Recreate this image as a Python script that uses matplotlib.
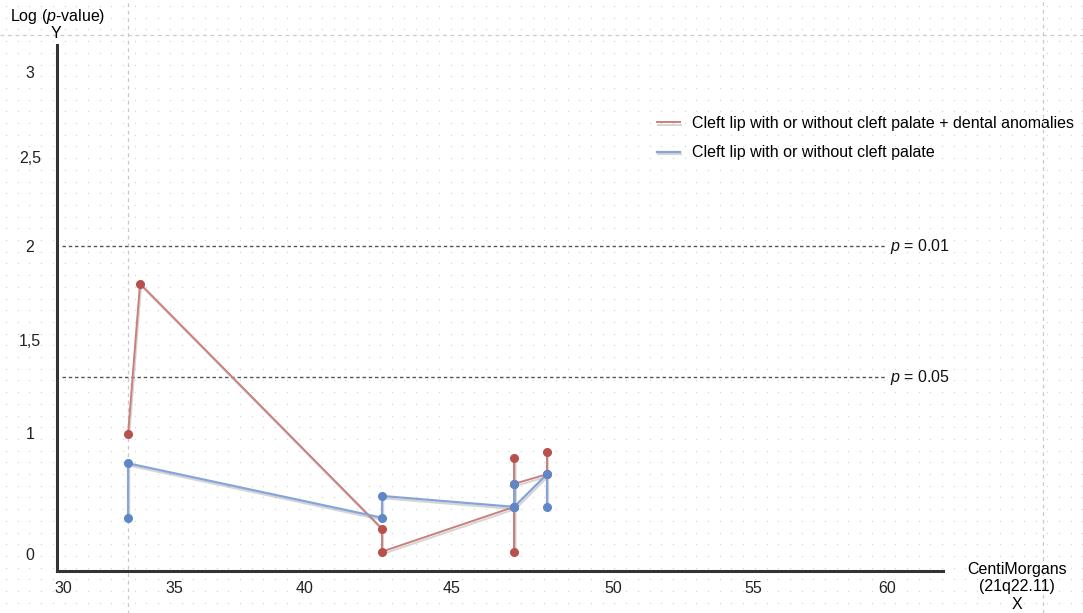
import numpy as np
import matplotlib.pyplot as plt
from matplotlib import patheffects as pe
from matplotlib.lines import Line2D

plt.rcParams['font.family'] = ['Liberation Sans', 'DejaVu Sans']
plt.rcParams['font.size'] = 11.5
plt.rcParams['mathtext.fontset'] = 'custom'
plt.rcParams['mathtext.rm'] = 'Liberation Sans'
plt.rcParams['mathtext.it'] = 'Liberation Sans:italic'

# ----------------- Data -----------------
# series path (cM, -log10 p), vertical runs are several values at one marker
red_label = "Cleft lip with or without cleft palate + dental anomalies"
red_cm = [32.93, 33.47, 42.62, 42.62, 46.93, 46.93, 46.93, 46.93, 47.95, 47.95]
red_logp = [0.99, 1.80, 0.21, 0.02, 0.39, 0.02, 0.79, 0.58, 0.66, 0.84]

blue_label = "Cleft lip with or without cleft palate"
blue_cm = [32.93, 32.93, 42.62, 42.62, 46.93, 46.93, 46.93, 47.95, 47.95]
blue_logp = [0.30, 0.75, 0.30, 0.48, 0.39, 0.58, 0.39, 0.66, 0.39]

thresholds = [0.01, 0.05]

x_ticks = [30, 35, 40, 45, 50, 55, 60]
y_ticks = [0, 1, 1.5, 2, 2.5, 3]
y_ticklabels = ['0', '1', '1,5', '2', '2,5', '3']

# the original figure has uneven tick spacing -> piecewise scale
x_knots = [25, 30, 35, 40, 45, 50, 55, 60, 65]
x_pos = [-48, 63, 174, 305, 452, 613, 753, 887, 1021]
y_knots = [-1, 0, 1, 1.5, 2, 2.5, 3, 4]
y_pos = [675, 554, 433, 340, 246, 157, 72, -98]


def x_fwd(v):
    return np.interp(v, x_knots, x_pos)


def x_inv(u):
    return np.interp(u, x_pos, x_knots)


def y_fwd(v):
    return -np.interp(v, y_knots, y_pos)


def y_inv(u):
    return np.interp(-u, y_pos[::-1], y_knots[::-1])


# ----------------- Figure/Axes -----------------
W, H = 1083, 613
fig = plt.figure(figsize=(W / 100, H / 100), dpi=100)

# dotted background
ax_bg = fig.add_axes([0, 0, 1, 1], zorder=-2)
ax_bg.set_xlim(0, W)
ax_bg.set_ylim(H, 0)
ax_bg.axis('off')
gx, gy = np.meshgrid(np.arange(6, W, 11.7), np.arange(6, H, 11.7))
ax_bg.scatter(gx.ravel(), gy.ravel(), s=1.1, color='#dadada', lw=0)

ax = fig.add_axes([57 / W, (H - 571) / H, 886 / W, 526 / H])
ax.set_facecolor('none')
ax.set_xscale('function', functions=(x_fwd, x_inv))
ax.set_yscale('function', functions=(y_fwd, y_inv))
ax.set_xlim(29.73, 62.09)
ax.set_ylim(-0.14, 3.159)

for s in ['top', 'right']:
    ax.spines[s].set_visible(False)
for s in ['left', 'bottom']:
    ax.spines[s].set_linewidth(2.2)
    ax.spines[s].set_color('#333333')

ax.set_xticks(x_ticks)
ax.set_xticklabels([str(t) for t in x_ticks])
ax.set_yticks(y_ticks)
ax.set_yticklabels(y_ticklabels, ha='center')
ax.tick_params(axis='x', length=0, pad=7, labelsize=11.5, colors='#222222')
ax.tick_params(axis='y', length=0, pad=19.5, labelsize=11.5, colors='#222222')
ax.minorticks_off()

# guide lines
guide = dict(color='#c9c9c9', lw=0.9, ls=(0, (3, 3)))
ax.axvline(red_cm[0], ymin=-0.2, ymax=1.2, clip_on=False, **guide)
fig.add_artist(Line2D([1043 / W, 1043 / W], [0, 1], transform=fig.transFigure, **guide))
fig.add_artist(Line2D([0, 1], [1 - 35 / H, 1 - 35 / H], transform=fig.transFigure, **guide))

# significance lines
for p in thresholds:
    lp = -np.log10(p)
    ax.axhline(lp, xmin=0.006, xmax=0.936, color='#555555', lw=1.0, ls=(0, (2.5, 2)))
    ax.text(0.94, lp, r'$p$' + ' = %g' % p, transform=ax.get_yaxis_transform(),
            ha='left', va='center', color='#111111')

# series
shadow = [pe.SimpleLineShadow(offset=(0.8, -1.6), shadow_color='#888888', alpha=0.35),
          pe.Normal()]
ax.plot(red_cm, red_logp, color='#c9807c', lw=1.4, label=red_label,
        path_effects=shadow, zorder=3)
ax.plot(blue_cm, blue_logp, color='#86a4d8', lw=1.6, label=blue_label,
        path_effects=shadow, zorder=4)
ax.plot(red_cm, red_logp, ls='none', marker='o', ms=5.5, color='#b9504c', zorder=5)
ax.plot(blue_cm, blue_logp, ls='none', marker='o', ms=5.5, color='#5f87c8', zorder=6)

ax.legend(loc='upper left', bbox_to_anchor=(657 / W, 1 - 116 / H),
          bbox_transform=fig.transFigure, frameon=False, borderpad=0,
          borderaxespad=0, handlelength=1.44, handletextpad=0.75,
          labelspacing=0.9, fontsize=11.5)

# axis titles
fig.text(10 / W, 1 - 17 / H, r'Log ($p$-value)', ha='left', va='center')
fig.text(56 / W, 1 - 33 / H, 'Y', ha='center', va='center')
fig.text(1017 / W, 1 - 562 / H, 'CentiMorgans\n(21q22.11)\nX', ha='center', va='top',
         linespacing=1.2)

fig.savefig('out.png', dpi=100)
